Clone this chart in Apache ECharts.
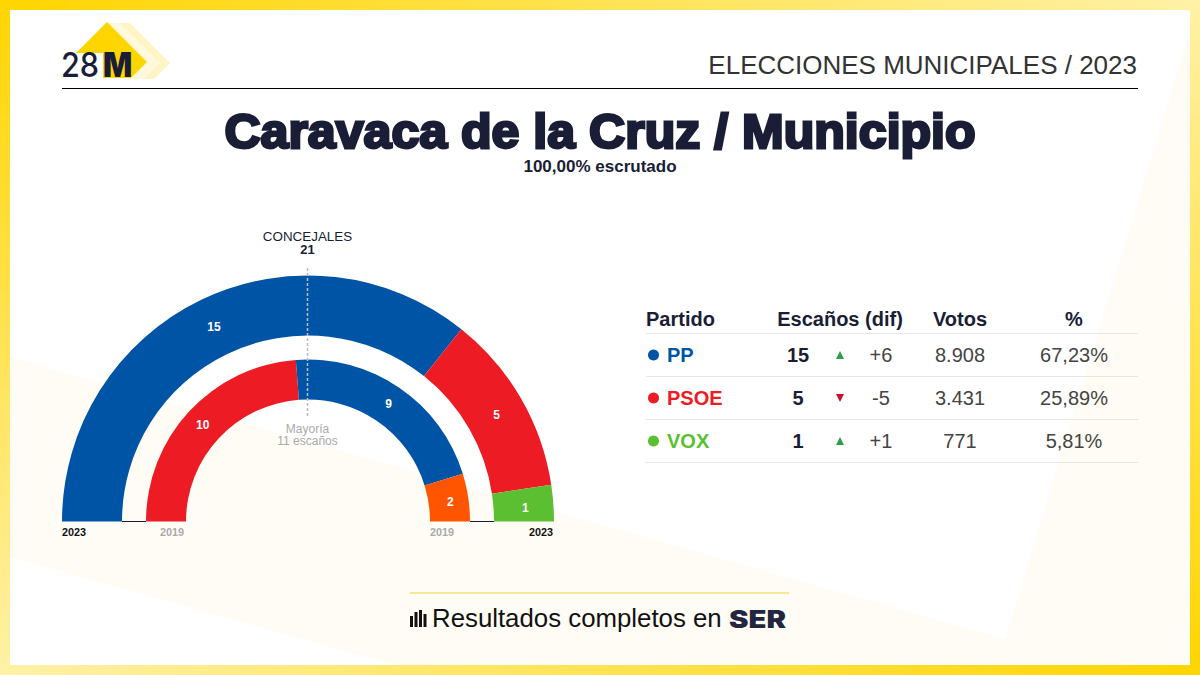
<!DOCTYPE html>
<html><head><meta charset="utf-8">
<style>html,body{margin:0;padding:0;background:#fff}#c{width:1200px;height:675px}</style>
<script src="https://cdn.jsdelivr.net/npm/echarts@6/dist/echarts.min.js"></script>
</head><body><div id="c"></div>
<script>
const parties = ['PP','PSOE','VOX'];
const partyColors = ['#0054A6','#ED1C24','#5BBF31'];
const seats2023 = [15,5,1];
const difs = ['+6','-5','+1'];
const votes = ['8.908','3.431','771'];
const pcts = ['67,23%','25,89%','5,81%'];
const parties2019 = ['PSOE','PP','Otros'];
const seats2019 = [10,9,2];
const colors2019 = ['#ED1C24','#0054A6','#FF5500'];
const headers = ['Partido','Escaños (dif)','Votos','%'];

const INK = '#1A1D36', SANS = '"Liberation Sans", Arial, sans-serif';
const cx = 308, cy = 521.5;
const g = [];
const T = (text,x,y,fs,fill,weight,align,extra,sExtra) => g.push(Object.assign({type:'text',silent:true,z:20,x,y,
  style:Object.assign({text,x:0,y:0,fontSize:fs,fontFamily:SANS,fontWeight:weight||'normal',fill,align:align||'center',verticalAlign:'middle'},sExtra||{})},extra||{}));
const P = (points,fill,z) => g.push({type:'polygon',silent:true,z:z===undefined?-5:z,shape:{points},style:{fill}});
const R = (x,y,w,h,fill,z) => g.push({type:'rect',silent:true,z:z===undefined?-5:z,shape:{x,y,width:w,height:h},style:{fill}});
const L = (x1,y1,x2,y2,stroke,lw,dash,z) => g.push({type:'line',silent:true,z:z===undefined?5:z,shape:{x1,y1,x2,y2},style:{stroke,lineWidth:lw,lineDash:dash||null}});
const grad = (x,y,x2,y2,a,b) => new echarts.graphic.LinearGradient(x,y,x2,y2,[{offset:0,color:a},{offset:1,color:b}]);

// frame and background
const Y = '#FFD500', LT = '#FFF1A6';
R(0,0,1200,10,grad(0,0,1,0,Y,LT),-9);
R(0,0,10,675,grad(0,0,0,1,Y,LT),-9);
R(0,665,1200,10,grad(0,0,1,0,LT,Y),-9);
R(1190,0,10,675,grad(0,0,0,1,LT,Y),-9);
R(10,10,1180,655,'#FFFFFF',-8);
P([[10,357],[1005,639],[1190,30],[1190,665],[395,665],[10,557]],'#FFFCF5',-7);

// logo
P([[137,22],[177,62],[161,78],[145,78],[161,62],[121,22]].map(p=>[p[0]-7,p[1]+1]),'#FFF4C4',-4);
P([[127,22],[167,62],[151,78],[135,78],[151,62],[111,22]].map(p=>[p[0]-7,p[1]+1]),'#FFF8DC',-4);
P([[107,22],[147,62],[131,78],[103,78],[103,53],[76,53]],'#FFD500',-3);
T('28',61,65,34,INK,500,'left',{scaleX:0.9},{fontFamily:'Inter'});
T('M',103,65,34,INK,900,'left',{scaleX:0.9},{fontFamily:'Inter'});

// header
L(62,88.5,1138,88.5,'#000000',1);
T('ELECCIONES MUNICIPALES / 2023',1137,65,26,'#333333','normal','right');
T('Caravaca de la Cruz / Municipio',600,131,49,INK,'bold','center',{scaleX:1.022},{stroke:INK,lineWidth:2.8});
T('100,00% escrutado',600,166,17,INK,'bold');

// hemicycle annotations
T('CONCEJALES',307.5,236,13.4,INK);
T(String(seats2023.reduce((a,b)=>a+b,0)),307.5,249.5,13,INK,'bold');
L(307.5,268,307.5,418,'#BBBDC2',1.5,[3,2],30);
T('Mayoría',307.5,428.5,12,'#AAAAAA');
T('11 escaños',307.5,440.5,12,'#AAAAAA');
L(122,521.5,146,521.5,INK,1);
L(470,521.5,494,521.5,INK,1);
T('2023',62,531.5,10.8,'#111111','bold','left');
T('2019',160,531.5,10.8,'#AAAAAA','bold','left');
T('2019',430,531.5,10.8,'#AAAAAA','bold','left');
T('2023',529,531.5,10.8,'#111111','bold','left');

// table
const colX = [646,840,960,1074];
const head = 319, rowY = [355,398,441], sep = [333.5,376.5,419.5,462.5];
headers.forEach((h,i)=>T(h,colX[i],head,20,INK,'bold',i?'center':'left'));
sep.forEach(y=>L(646,y,1138,y,'#E6E6E6',1));
parties.forEach((p,i)=>{
  const y = rowY[i];
  g.push({type:'circle',silent:true,z:10,shape:{cx:653.5,cy:y,r:5.5},style:{fill:partyColors[i]}});
  T(p,667,y,20,partyColors[i],'bold','left');
  T(String(seats2023[i]),798,y,20,INK,'bold');
  const up = difs[i][0]==='+';
  P(up?[[836,y+4],[844,y+4],[840,y-4]]:[[836,y-4],[844,y-4],[840,y+4]],up?'#2E9E44':'#C8102E',10);
  T(difs[i],881,y,20,'#444444');
  T(votes[i],960,y,20,'#444444');
  T(pcts[i],1074,y,20,'#444444');
});

// footer
L(410,593,789,593,'#F2D33C',1);
[[410,616,3,11],[414.5,612,3,15],[419,610,3,17],[423.5,614,3,13]].forEach(b=>R(b[0],b[1],b[2],b[3],'#111111',10));
T('Resultados completos en',432,618,25.8,'#111111','normal','left');
T('SER',729,619,24,'#23263F',900,'left',{scaleX:1.22},{fontFamily:'Inter'});

const toData = (names,vals,cols) => names.map((name,i)=>({name,value:vals[i],itemStyle:{color:cols[i]},
  label:{offset:[i===0?1:-1,2.5]}}));
const pie = (name,radius,data) => ({
  name,type:'pie',silent:true,animation:false,center:[cx,cy],radius,startAngle:180,endAngle:0,clockwise:true,
  avoidLabelOverlap:false,minShowLabelAngle:0,labelLine:{show:false},
  label:{show:true,position:'inside',formatter:'{c}',color:'#FFFFFF',fontSize:12,fontWeight:'bold',fontFamily:SANS},
  emphasis:{disabled:true},data
});
const chart = echarts.init(document.getElementById('c'),null,{renderer:'svg',width:1200,height:675});
chart.setOption({
  animation:false,backgroundColor:'#FFFFFF',
  series:[
    pie('2023',[186,246],toData(parties,seats2023,partyColors)),
    pie('2019',[122,162],toData(parties2019,seats2019,colors2019))
  ],
  graphic:{elements:g}
});
</script></body></html>
